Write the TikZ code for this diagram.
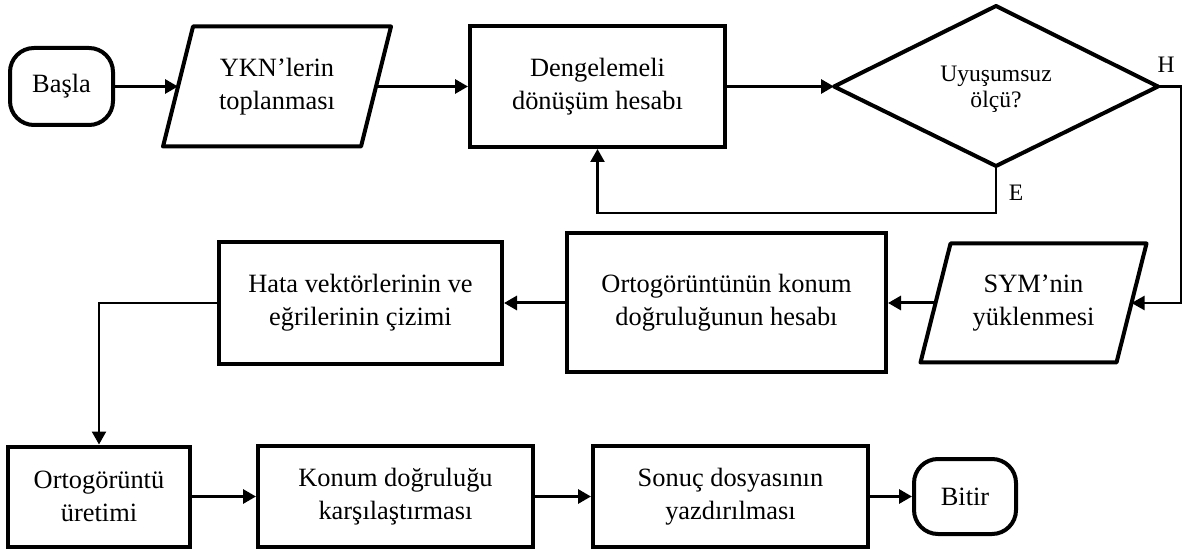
\documentclass[tikz,border=0pt]{standalone}
\usepackage{fontspec}
\setmainfont{Liberation Serif}
\usetikzlibrary{arrows.meta,calc}
\begin{document}
\begin{tikzpicture}[x=0.5pt,y=-0.5pt,
  txt/.style={font=\fontsize{13.2}{16.5}\selectfont, align=center, inner sep=0pt},
  proc/.style={txt, draw, line width=2pt, rectangle},
  term/.style={txt, draw, line width=2pt, rounded corners=12pt},
  shapeline/.style={line width=2pt, line join=round},
  arr/.style={line width=1.5pt, -{Triangle[length=6.5pt,width=7pt]}},
  thinarr/.style={line width=1.15pt, -{Triangle[length=6.5pt,width=7pt]}},
  lbl/.style={font=\fontsize{11.8}{13}\selectfont, inner sep=0pt}
]
\useasboundingbox (0,0) rectangle (1186,549);

% row 1
\node[term, minimum width=51.5pt, minimum height=38.5pt] (basla) at (61.5,86.5) {Başla};

\node[txt] (ykn) at (277,86.5) {YKN’lerin\\toplanması};
\draw[shapeline] ($(ykn)+(-84,-60)$) -- ($(ykn)+(114,-60)$) -- ($(ykn)+(84,60)$) -- ($(ykn)+(-114,60)$) -- cycle;
\coordinate (yknL) at ($(ykn)+(-99,0)$);
\coordinate (yknR) at ($(ykn)+(99,0)$);

\node[proc, minimum width=127.5pt, minimum height=60.5pt] (deng) at (597.5,86.5) {Dengelemeli\\dönüşüm hesabı};

\node[txt, font=\fontsize{11.8}{12.9}\selectfont] (dia) at (996,89) {Uyuşumsuz\\ölçü?};
\coordinate (diaW) at (834,86.5);
\coordinate (diaN) at (996,6);
\coordinate (diaE) at (1158,86.5);
\coordinate (diaS) at (996,166);
\draw[shapeline] (diaW) -- (diaN) -- (diaE) -- (diaS) -- cycle;

\node[lbl] (h) at (1166,65) {H};
\node[lbl] (e) at (1016,193) {E};

% row 2
\node[txt] (sym) at (1033.5,303) {SYM’nin\\yüklenmesi};
\draw[shapeline] ($(sym)+(-83,-59.5)$) -- ($(sym)+(113,-59.5)$) -- ($(sym)+(83,59.5)$) -- ($(sym)+(-113,59.5)$) -- cycle;
\coordinate (symL) at ($(sym)+(-98,0)$);
\coordinate (symR) at ($(sym)+(98,0)$);

\node[proc, minimum width=159.5pt, minimum height=69.5pt] (konumh) at (726.5,303) {Ortogörüntünün konum\\doğruluğunun hesabı};
\node[proc, minimum width=141.5pt, minimum height=61pt] (hata) at (360.5,303) {Hata vektörlerinin ve\\eğrilerinin çizimi};

% row 3
\node[proc, minimum width=91pt, minimum height=50pt] (orto) at (99,496.5) {Ortogörüntü\\üretimi};
\node[proc, minimum width=137.5pt, minimum height=50.5pt] (kars) at (395.5,496.5) {Konum doğruluğu\\karşılaştırması};
\node[proc, minimum width=137.5pt, minimum height=50.5pt] (sonuc) at (730.5,496.5) {Sonuç dosyasının\\yazdırılması};
\node[term, minimum width=51pt, minimum height=37.5pt] (bitir) at (965,496.5) {Bitir};

% connectors
\draw[arr] (basla.east) -- (yknL);
\draw[arr] (yknR) -- (deng.west);
\draw[arr] (deng.east) -- (diaW);
\draw[thinarr] (diaS) -- ++(0,47) -| (deng.south);
\draw[thinarr] (diaE) -- ++(23,0) |- (symR);
\draw[arr] (symL) -- (konumh.east);
\draw[arr] (konumh.west) -- (hata.east);
\draw[thinarr] (hata.west) -| (orto.north);
\draw[arr] (orto.east) -- (kars.west);
\draw[arr] (kars.east) -- (sonuc.west);
\draw[arr] (sonuc.east) -- (bitir.west);
\end{tikzpicture}
\end{document}
